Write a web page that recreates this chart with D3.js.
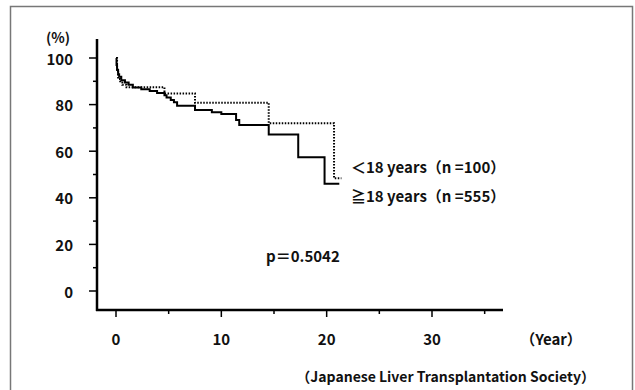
<!DOCTYPE html>
<html>
<head>
<meta charset="utf-8">
<script src="https://cdn.jsdelivr.net/npm/d3@7"></script>
<style>
  body { margin: 0; background: #fff; }
  text { font-family: "Noto Sans CJK JP", "Noto Sans", sans-serif; font-weight: bold; fill: #111; }
</style>
</head>
<body>
<div id="grafico"></div>
<script>
// ≧18 years (solid)
const tiempo_adulto = [0, 0.05, 0.1, 0.2, 0.3, 0.5, 0.85, 1.2, 1.6, 2.4, 3.2, 3.9, 4.6, 4.8, 5.2, 5.5, 5.8, 7.5, 9.1, 10.0, 11.4, 11.7, 14.5, 17.3, 19.8, 21.2];
const superv_adulto = [100, 97, 95, 93, 92, 90.5, 89.5, 88.5, 87.3, 86.6, 85.8, 85.0, 84.0, 83.0, 82.0, 81.0, 79.5, 77.7, 76.7, 76.0, 73.4, 71.2, 67.2, 57.4, 46, 46];
// <18 years (dotted)
const tiempo_nino = [0, 0.1, 0.2, 0.4, 0.6, 1.0, 4.6, 7.5, 14.5, 20.7, 21.4];
const superv_nino = [100, 95, 91, 89.5, 88.5, 87.4, 84.8, 80.8, 72, 48.4, 48.4];

const ticks_y = [0, 20, 40, 60, 80, 100];
const ticks_y_menores = [10, 30, 50, 70, 90];
const ticks_x = [0, 10, 20, 30];
const ticks_x_menores = [5, 15, 25, 35];

const etiqueta_nino = "＜18 years（n =100）";
const etiqueta_adulto = "≧18 years（n =555）";
const texto_p = "p＝0.5042";

function crearGrafico(){
    const svg = d3.select("#grafico").append("svg")
        .attr("width", 635)
        .attr("height", 390);

    // marco
    svg.append("rect")
        .attr("x", 10.5).attr("y", 6.5)
        .attr("width", 622).attr("height", 400)
        .attr("fill", "none")
        .attr("stroke", "#777")
        .attr("stroke-width", 1.5);

    const x = d3.scaleLinear().domain([0, 30]).range([116, 432]);
    const y = d3.scaleLinear().domain([0, 100]).range([291, 58]);

    // ejes
    svg.append("line")
        .attr("x1", 97).attr("x2", 97).attr("y1", 39).attr("y2", 311)
        .attr("stroke", "#000").attr("stroke-width", 2.5);
    svg.append("line")
        .attr("x1", 96).attr("x2", 503).attr("y1", 310).attr("y2", 310)
        .attr("stroke", "#000").attr("stroke-width", 2.5);

    svg.selectAll(".ty").data(ticks_y).join("line")
        .attr("x1", 89).attr("x2", 97)
        .attr("y1", d => y(d)).attr("y2", d => y(d))
        .attr("stroke", "#000").attr("stroke-width", 1.5);
    svg.selectAll(".tym").data(ticks_y_menores).join("line")
        .attr("x1", 93).attr("x2", 97)
        .attr("y1", d => y(d)).attr("y2", d => y(d))
        .attr("stroke", "#000").attr("stroke-width", 1.5);
    svg.selectAll(".ly").data(ticks_y).join("text")
        .attr("x", 73).attr("y", d => y(d))
        .attr("text-anchor", "end")
        .attr("dominant-baseline", "central")
        .attr("font-size", 15)
        .text(d => d);

    svg.selectAll(".tx").data(ticks_x).join("line")
        .attr("x1", d => x(d)).attr("x2", d => x(d))
        .attr("y1", 310).attr("y2", 317)
        .attr("stroke", "#000").attr("stroke-width", 1.5);
    svg.selectAll(".txm").data(ticks_x_menores).join("line")
        .attr("x1", d => x(d)).attr("x2", d => x(d))
        .attr("y1", 310).attr("y2", 314)
        .attr("stroke", "#000").attr("stroke-width", 1.5);
    svg.selectAll(".lx").data(ticks_x).join("text")
        .attr("x", d => x(d)).attr("y", 338)
        .attr("text-anchor", "middle")
        .attr("dominant-baseline", "central")
        .attr("font-size", 15)
        .text(d => d);

    svg.append("text").attr("x", 58).attr("y", 37)
        .attr("text-anchor", "middle").attr("dominant-baseline", "central")
        .attr("font-size", 14).attr("font-weight", "normal")
        .text("(%)");
    svg.append("text").attr("x", 551).attr("y", 338)
        .attr("text-anchor", "middle").attr("dominant-baseline", "central")
        .attr("font-size", 15)
        .text("（Year）");
    svg.append("text").attr("x", 595).attr("y", 376)
        .attr("text-anchor", "end").attr("dominant-baseline", "central")
        .attr("font-size", 14)
        .text("（Japanese Liver Transplantation Society）");

    // curvas
    const linea = d3.line()
        .x(d => x(d[0]))
        .y(d => y(d[1]))
        .curve(d3.curveStepAfter);

    svg.append("path")
        .attr("d", linea(d3.zip(tiempo_nino, superv_nino)))
        .attr("fill", "none").attr("stroke", "#000")
        .attr("stroke-width", 2).attr("stroke-dasharray", "1.5,1.5");
    svg.append("path")
        .attr("d", linea(d3.zip(tiempo_adulto, superv_adulto)))
        .attr("fill", "none").attr("stroke", "#000")
        .attr("stroke-width", 2);

    svg.append("text").attr("x", 351).attr("y", 166)
        .attr("dominant-baseline", "central").attr("font-size", 15)
        .text(etiqueta_nino);
    svg.append("text").attr("x", 351).attr("y", 195)
        .attr("dominant-baseline", "central").attr("font-size", 15)
        .text(etiqueta_adulto);
    svg.append("text").attr("x", 266).attr("y", 255)
        .attr("dominant-baseline", "central").attr("font-size", 15)
        .text(texto_p);
}
crearGrafico();
</script>
</body>
</html>
